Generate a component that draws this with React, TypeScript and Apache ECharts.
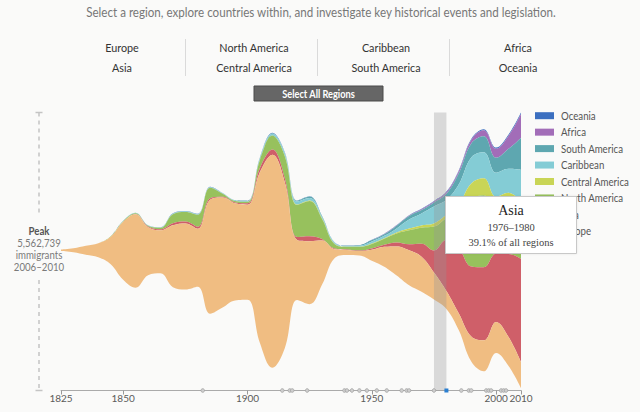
import React, { useEffect, useRef } from "react";
import * as echarts from "echarts";

// ---------------- data (thousands of immigrants, 5-year periods ending in the given year) ----------------
const YEARS = [
  1825, 1830, 1835, 1840, 1845, 1850, 1855, 1860, 1865, 1870,
  1875, 1880, 1885, 1890, 1895, 1900, 1905, 1910, 1915, 1920,
  1925, 1930, 1935, 1940, 1945, 1950, 1955, 1960, 1965, 1970,
  1975, 1980, 1985, 1990, 1995, 2000, 2005, 2010,
];

const OCEANIA = [0, 0, 0, 0, 0, 2, 2, 2, 2, 2, 4, 4, 4, 2, 2, 2, 6, 8, 6, 4, 4, 2, 2, 2, 2, 4, 4, 6, 6, 10, 10, 16, 18, 20, 22, 24, 26, 28];
const AFRICA = [0, 0, 0, 0, 0, 0, 0, 0, 0, 0, 0, 0, 0, 0, 0, 0, 2, 2, 2, 2, 2, 2, 0, 0, 0, 2, 4, 6, 10, 16, 20, 30, 46, 71, 121, 182, 263, 485];
const SOUTH_AMERICA = [0, 0, 0, 0, 0, 2, 2, 2, 2, 4, 4, 4, 4, 4, 4, 6, 10, 10, 14, 16, 30, 20, 8, 8, 10, 26, 34, 55, 71, 67, 81, 121, 222, 283, 323, 303, 404, 646];
const CARIBBEAN = [0, 0, 0, 0, 0, 6, 6, 6, 6, 10, 10, 10, 10, 10, 10, 14, 30, 34, 51, 61, 51, 30, 20, 12, 20, 40, 46, 81, 182, 242, 343, 303, 404, 525, 525, 485, 485, 646];
const CENTRAL_AMERICA = [0, 0, 0, 0, 0, 0, 0, 0, 0, 0, 0, 0, 0, 0, 0, 0, 2, 4, 6, 6, 10, 10, 4, 4, 6, 10, 12, 20, 34, 46, 61, 61, 121, 303, 343, 202, 263, 242];
const NORTH_AMERICA = [0, 0, 0, 0, 10, 12, 14, 14, 30, 182, 192, 242, 212, 61, 30, 30, 162, 283, 444, 646, 707, 404, 91, 51, 71, 91, 121, 182, 283, 323, 485, 444, 768, 1374, 1454, 949, 970, 909];
const ASIA = [0, 0, 0, 0, 0, 0, 6, 16, 20, 40, 40, 40, 30, 14, 20, 30, 81, 101, 81, 61, 101, 30, 14, 10, 10, 26, 40, 81, 121, 263, 444, 1030, 1313, 1414, 1475, 1374, 1677, 2081];
const EUROPE = [30, 81, 182, 283, 556, 1172, 1485, 970, 869, 1252, 1333, 1172, 2303, 2222, 1959, 1919, 3454, 4303, 3353, 1212, 1273, 889, 182, 101, 91, 222, 404, 586, 707, 707, 545, 364, 343, 505, 626, 626, 586, 525];

// stacking order: first = top of the stream, last = bottom
const REGIONS = ["Oceania", "Africa", "South America", "Caribbean", "Central America", "North America", "Asia", "Europe"];
const REGION_VALUES = [OCEANIA, AFRICA, SOUTH_AMERICA, CARIBBEAN, CENTRAL_AMERICA, NORTH_AMERICA, ASIA, EUROPE];
const REGION_COLORS = ["#3b6fc0", "#a26db8", "#5ea7b0", "#84ccd5", "#c9d556", "#97c15d", "#cf5f69", "#f0bd82"];

const TICK_YEARS = [1825, 1850, 1900, 1950, 2000, 2010];
const EVENT_YEARS = [1882, 1914, 1917, 1918, 1924, 1939, 1940, 1942, 1945, 1948, 1952, 1956, 1962, 1964, 1965, 1975, 1986, 1989, 1990, 1996, 1997, 1998, 2002, 2003, 2004];
const SELECTED_EVENT = 1980;
const HIGHLIGHT_SPAN = [1975, 1980];

const TITLE = "Select a region, explore countries within, and investigate key historical events and legislation.";
const MENU_ROWS = [
  ["Europe", "North America", "Caribbean", "Africa"],
  ["Asia", "Central America", "South America", "Oceania"],
];
const BUTTON_LABEL = "Select All Regions";
const PEAK_LINES = ["Peak", "5,562,739", "immigrants", "2006\u20132010"];
const TOOLTIP_LINES = ["Asia", "1976\u20131980", "39.1% of all regions"];

// ---------------- layout constants ----------------
const AXIS_LEFT = 61;
const AXIS_WIDTH = 460;
const AXIS_TOP = 112.5;
const AXIS_HEIGHT = 278;
const SANS = "Lato, 'Open Sans', sans-serif";
const SERIF = "'Liberation Serif', 'DejaVu Serif', serif";

export default function App() {
  const ref = useRef<HTMLDivElement>(null);

  useEffect(() => {
    const el = ref.current;
    if (!el) return;
    const chart = echarts.init(el, null, { renderer: "svg" });

    const riverData: any[] = [];
    REGIONS.forEach((name, r) => {
      REGION_VALUES[r].forEach((v, i) => riverData.push([YEARS[i], v, name]));
    });

    chart.setOption({
      animation: false,
      backgroundColor: "#fafaf9",
      color: REGION_COLORS,
      singleAxis: {
        type: "value",
        min: 1825,
        max: 2010,
        interval: 25,
        left: AXIS_LEFT,
        width: AXIS_WIDTH,
        top: AXIS_TOP,
        height: AXIS_HEIGHT,
        axisLine: { lineStyle: { color: "#aaaaaa", width: 1 } },
        axisTick: { show: true, length: 4, lineStyle: { color: "#999999" }, customValues: TICK_YEARS },
        axisLabel: {
          customValues: TICK_YEARS,
          color: "#5a5a5a",
          fontSize: 10,
          fontFamily: SANS,
          margin: 2,
          formatter: (v: number) => (TICK_YEARS.indexOf(v) >= 0 ? String(v) : ""),
        },
        splitLine: { show: false },
        axisPointer: { show: false },
      },
      series: [
        {
          type: "themeRiver",
          singleAxisIndex: 0,
          boundaryGap: [0, 2.5],
          label: { show: false },
          emphasis: { disabled: true },
          itemStyle: { borderWidth: 0 },
          data: riverData,
        },
      ],
    });

    const toX = (yr: number): number => {
      const p: any = chart.convertToPixel({ singleAxisIndex: 0 } as any, yr);
      return Array.isArray(p) ? p[0] : p;
    };
    const axisY = AXIS_TOP + AXIS_HEIGHT;

    const g: any[] = [];
    // title
    g.push({ type: "text", x: 321, y: 12, scaleX: 0.86, style: { text: TITLE, fill: "#777777", fontSize: 13.5, fontFamily: SANS, align: "center", verticalAlign: "middle" } });
    // region menu
    const colX = [122, 254, 386, 518];
    MENU_ROWS.forEach((row, ri) => {
      row.forEach((name, ci) => {
        g.push({ type: "text", x: colX[ci], y: 47 + ri * 20, scaleX: 0.9, style: { text: name, fill: "#333333", fontSize: 12, fontFamily: SANS, align: "center", verticalAlign: "middle" } });
      });
    });
    [185.5, 317.5, 449.5].forEach((x) => {
      g.push({ type: "line", shape: { x1: x, y1: 39, x2: x, y2: 76 }, style: { stroke: "#dadada", lineWidth: 1 } });
    });
    // button
    g.push({ type: "rect", shape: { x: 254, y: 86, width: 129, height: 15 }, style: { fill: "#666666", stroke: "#4a4a4a", lineWidth: 1 } });
    g.push({ type: "text", x: 318.5, y: 93.5, scaleX: 0.88, style: { text: BUTTON_LABEL, fill: "#ffffff", fontSize: 10.5, fontWeight: "bold", fontFamily: SANS, align: "center", verticalAlign: "middle" } });

    // peak indicator on the left
    g.push({ type: "line", shape: { x1: 39, y1: AXIS_TOP, x2: 39, y2: 216 }, style: { stroke: "#c4c4c4", lineWidth: 1.5, lineDash: [4, 4] } });
    g.push({ type: "line", shape: { x1: 39, y1: 280, x2: 39, y2: axisY }, style: { stroke: "#c4c4c4", lineWidth: 1.5, lineDash: [4, 4] } });
    g.push({ type: "line", shape: { x1: 35.5, y1: AXIS_TOP, x2: 42.5, y2: AXIS_TOP }, style: { stroke: "#c4c4c4", lineWidth: 1.5 } });
    g.push({ type: "line", shape: { x1: 35.5, y1: axisY, x2: 42.5, y2: axisY }, style: { stroke: "#c4c4c4", lineWidth: 1.5 } });
    PEAK_LINES.forEach((t, i) => {
      g.push({
        type: "text", x: 39, y: 231 + i * 12, scaleX: 0.92,
        style: { text: t, fill: i === 0 ? "#555555" : "#7a7a7a", fontSize: 10.5, fontWeight: i === 0 ? "bold" : "normal", fontFamily: SANS, align: "center", verticalAlign: "middle" },
      });
    });

    // highlighted period band
    const bx0 = toX(HIGHLIGHT_SPAN[0]);
    const bx1 = toX(HIGHLIGHT_SPAN[1]);
    g.push({ type: "rect", z: 10, shape: { x: bx0, y: AXIS_TOP, width: bx1 - bx0, height: axisY - AXIS_TOP }, style: { fill: "rgba(150,150,150,0.32)" } });

    // event markers on the axis
    EVENT_YEARS.forEach((yr) => {
      g.push({ type: "circle", z: 11, shape: { cx: toX(yr), cy: axisY, r: 1.8 }, style: { fill: "#cfcfcf", stroke: "#a0a0a0", lineWidth: 0.8 } });
    });
    const sx = toX(SELECTED_EVENT);
    g.push({ type: "rect", z: 11, shape: { x: sx - 2, y: axisY - 2, width: 4, height: 4 }, style: { fill: "#2b7fd0" } });

    // legend
    REGIONS.forEach((name, i) => {
      const cy = 115.7 + i * 16.45;
      g.push({ type: "rect", z: 12, shape: { x: 535, y: cy - 3.5, width: 19, height: 7 }, style: { fill: REGION_COLORS[i] } });
      g.push({ type: "text", z: 12, x: 561, y: cy, scaleX: 0.88, style: { text: name, fill: "#555555", fontSize: 11, fontFamily: SANS, align: "left", verticalAlign: "middle" } });
    });

    // tooltip box
    g.push({ type: "rect", z: 20, shape: { x: 445.5, y: 196.5, width: 131, height: 57 }, style: { fill: "#ffffff", stroke: "#c8c8c8", lineWidth: 1, shadowBlur: 2, shadowColor: "rgba(0,0,0,0.08)" } });
    g.push({ type: "text", z: 21, x: 511, y: 210, style: { text: TOOLTIP_LINES[0], fill: "#222222", fontSize: 14, fontFamily: SERIF, align: "center", verticalAlign: "middle" } });
    g.push({ type: "text", z: 21, x: 511, y: 227, style: { text: TOOLTIP_LINES[1], fill: "#444444", fontSize: 10.5, fontFamily: SERIF, align: "center", verticalAlign: "middle" } });
    g.push({ type: "text", z: 21, x: 511, y: 242, style: { text: TOOLTIP_LINES[2], fill: "#444444", fontSize: 10.5, fontFamily: SERIF, align: "center", verticalAlign: "middle" } });

    chart.setOption({ graphic: g });

    return () => chart.dispose();
  }, []);

  return (
    <div style={{ position: "absolute", left: 0, top: 0, width: 640, height: 412, background: "#fafaf9" }}>
      <div ref={ref} style={{ width: 640, height: 412 }} />
    </div>
  );
}
